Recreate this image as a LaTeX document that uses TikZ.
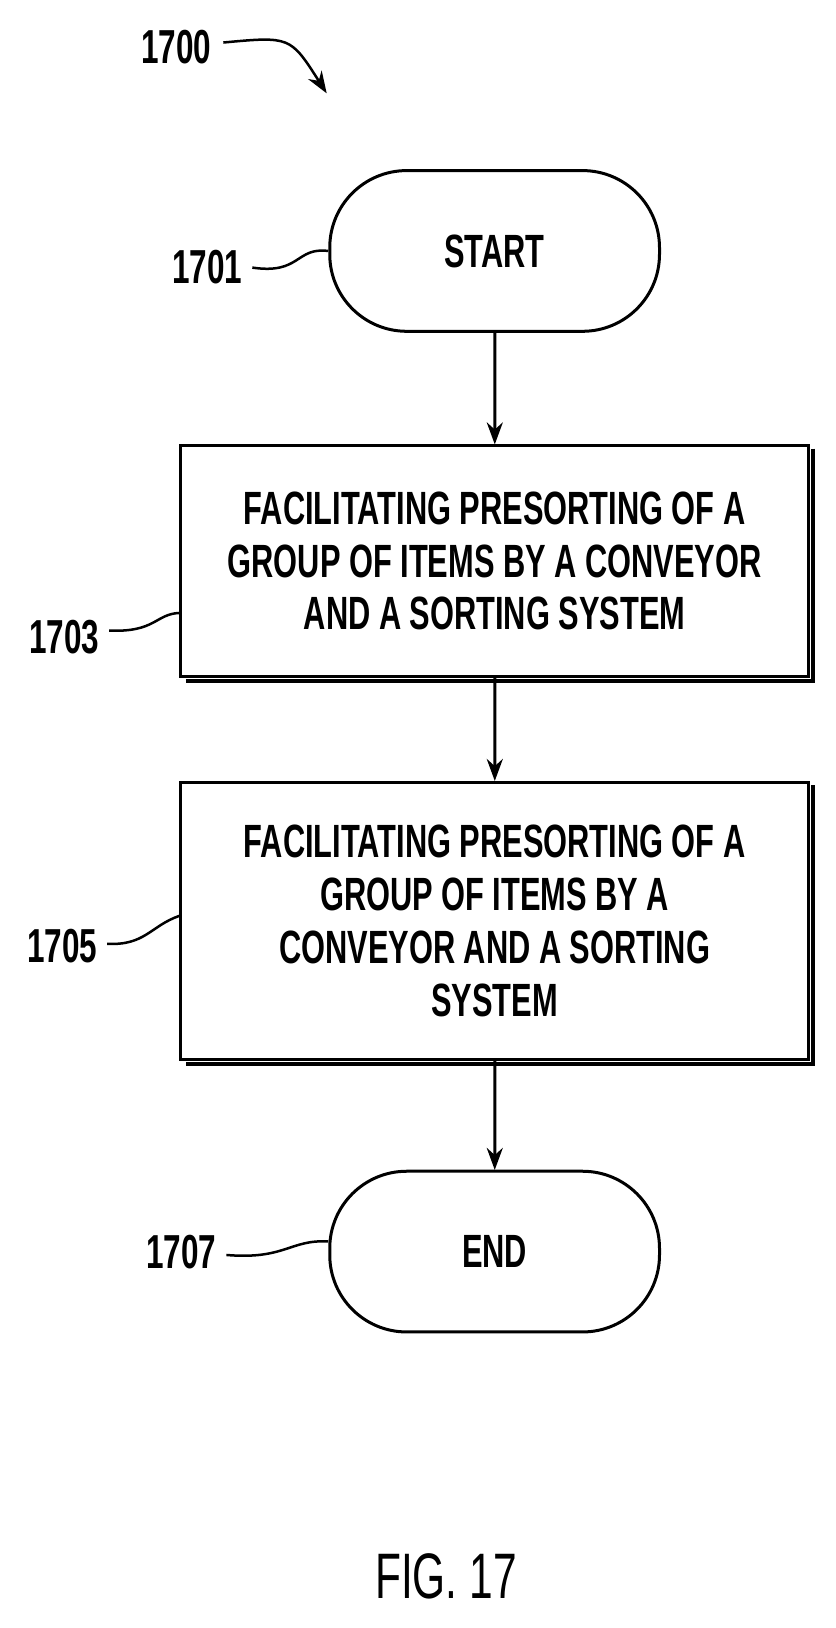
\documentclass[tikz,border=0pt]{standalone}
\usepackage{fontspec}
\setmainfont{Liberation Sans}[FakeStretch=0.66]
\usetikzlibrary{arrows.meta}

\tikzset{
  term/.style={draw, line width=3pt, rounded corners=77pt, minimum width=318pt, minimum height=155pt, font=\fontsize{45}{45}\selectfont\bfseries},
  stepbox/.style={draw, line width=3pt, minimum width=605pt, align=center, font=\fontsize{45}{51}\selectfont\bfseries},
  ref/.style={font=\fontsize{46}{46}\selectfont\bfseries},
  flow/.style={-{Stealth[length=22pt,width=16pt]}, line width=3pt},
  lead/.style={line width=2.5pt}
}

\begin{document}
\begin{tikzpicture}[x=1pt, y=-1pt, scale=1.037, every node/.append style={transform shape}]
    \useasboundingbox (0,0) rectangle (806,1570);

    \node[term] (start) at (477,242) {START};
    \node[stepbox, minimum height=222pt] (s1703) at (477,541) {FACILITATING PRESORTING OF A\\GROUP OF ITEMS BY A CONVEYOR\\AND A SORTING SYSTEM};
    \node[stepbox, minimum height=267pt] (s1705) at (477,888) {FACILITATING PRESORTING OF A\\GROUP OF ITEMS BY A\\CONVEYOR AND A SORTING\\SYSTEM};
    \node[term] (end) at (477,1207) {END};

    % shadows
    \draw[line width=4pt] ([xshift=3pt,yshift=-4pt]s1703.north east) |- ([xshift=6pt,yshift=-3pt]s1703.south west);
    \draw[line width=4pt] ([xshift=3pt,yshift=-4pt]s1705.north east) |- ([xshift=6pt,yshift=-3pt]s1705.south west);

    \draw[flow] (start) -- (s1703);
    \draw[flow] (s1703) -- (s1705);
    \draw[flow] (s1705) -- (end);

    \node[ref] (r1700) at (170,45) {1700};
    \node[ref] (r1701) at (200,258) {1701};
    \node[ref] (r1703) at (62,614) {1703};
    \node[ref] (r1705) at (60,912) {1705};
    \node[ref] (r1707) at (175,1207) {1707};
    \coordinate (c1700) at (315,90);

    \draw[flow, line width=2.5pt] (r1700.east) ++(8,-4) .. controls (280,35) .. (c1700);
    \draw[lead] (r1701.east) ++(6,0) .. controls (290,265) and (285,238) .. (start.west);
    \draw[lead] (r1703.east) ++(6,-6) .. controls (150,610) and (150,592) .. ([yshift=-50pt]s1703.west);
    \draw[lead] (r1705.east) ++(6,-2) .. controls (140,912) and (145,893) .. ([yshift=5pt]s1705.west);
    \draw[lead] (r1707.east) ++(6,3) .. controls (275,1215) and (280,1195) .. ([yshift=10pt]end.west);

    \node[ref, font=\fontsize{62}{62}\selectfont] (fig) at (430,1520) {FIG. 17};
\end{tikzpicture}
\end{document}
